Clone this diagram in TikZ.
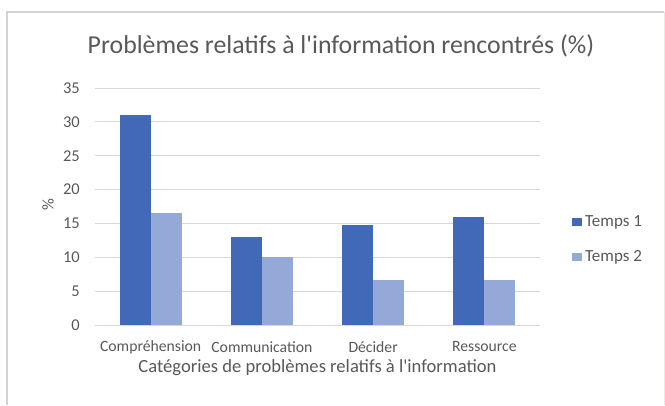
\documentclass[tikz,border=0pt]{standalone}
\usepackage{fontspec}
\setmainfont{Carlito}
\definecolor{tempsun}{HTML}{4169B8}
\definecolor{tempsdeux}{HTML}{94A9D8}
\definecolor{grille}{HTML}{DCD7D4}
\definecolor{cadre}{HTML}{D6D2CF}
\definecolor{texte}{HTML}{595959}
\tikzset{
  etiq/.style={text=texte, inner sep=0pt, font=\fontsize{15.7}{18}\selectfont},
  graduation/.style={etiq, anchor=east, font=\fontsize{16.5}{19}\selectfont},
  legende/.style={etiq, anchor=west, font=\fontsize{17}{20}\selectfont},
}
\begin{document}
\begin{tikzpicture}[x=1pt,y=-1pt]
	\def\xg{95}%bord gauche du graphe
	\def\xd{540}%bord droit du graphe
	\def\yz{325}%ligne du zero
	\def\u{6.77}%pixels par pourcent
	\def\w{31}%largeur d'une barre
	\pgfmathsetmacro{\pas}{(\xd-\xg)/4}
	\useasboundingbox (0,0) rectangle (665,405);
	\fill[white] (0,0) rectangle (665,405);
	\draw[cadre, line width=1.2pt] (664,12) -- (7,12) -- (7,405);
	\draw[cadre!50, line width=0.8pt] (664,12) -- (664,405);
	% titre
	\node[etiq, font=\fontsize{25.8}{30}\selectfont] (titre) at (341,46) {Problèmes relatifs à l\textquotesingle information rencontrés (\%)};
	% grille et graduations
	\foreach \v in {0,5,...,35}{
		\draw[grille, line width=0.9pt] (\xg,\yz-\v*\u) -- (\xd,\yz-\v*\u);
		\node[graduation] (y\v) at (80,\yz-\v*\u) {\v};
	}
	\node[graduation, anchor=center, rotate=90] (ytitre) at (48,205) {\%};
	% barres
	\foreach \nom/\a/\b [count=\i] in {Compréhension/31/16.6, Communication/13/10, Décider/14.8/6.6, Ressource/15.9/6.6}{
		\pgfmathsetmacro{\cx}{\xg+(\i-0.5)*\pas}
		\fill[tempsun] (\cx-\w,\yz) rectangle (\cx,\yz-\a*\u);
		\fill[tempsdeux] (\cx,\yz) rectangle (\cx+\w,\yz-\b*\u);
		\node[etiq] (cat\i) at (\cx,347) {\nom};
	}
	\node[etiq, font=\fontsize{18.6}{22}\selectfont] (xtitre) at (317.5,368) {Catégories de problèmes relatifs à l\textquotesingle information};
	% legende
	\fill[tempsun] (572,218) rectangle (582,226);
	\node[legende] (leg1) at (585,222) {Temps 1};
	\fill[tempsdeux] (572,253) rectangle (582,261);
	\node[legende] (leg2) at (585,257) {Temps 2};
\end{tikzpicture}
\end{document}
